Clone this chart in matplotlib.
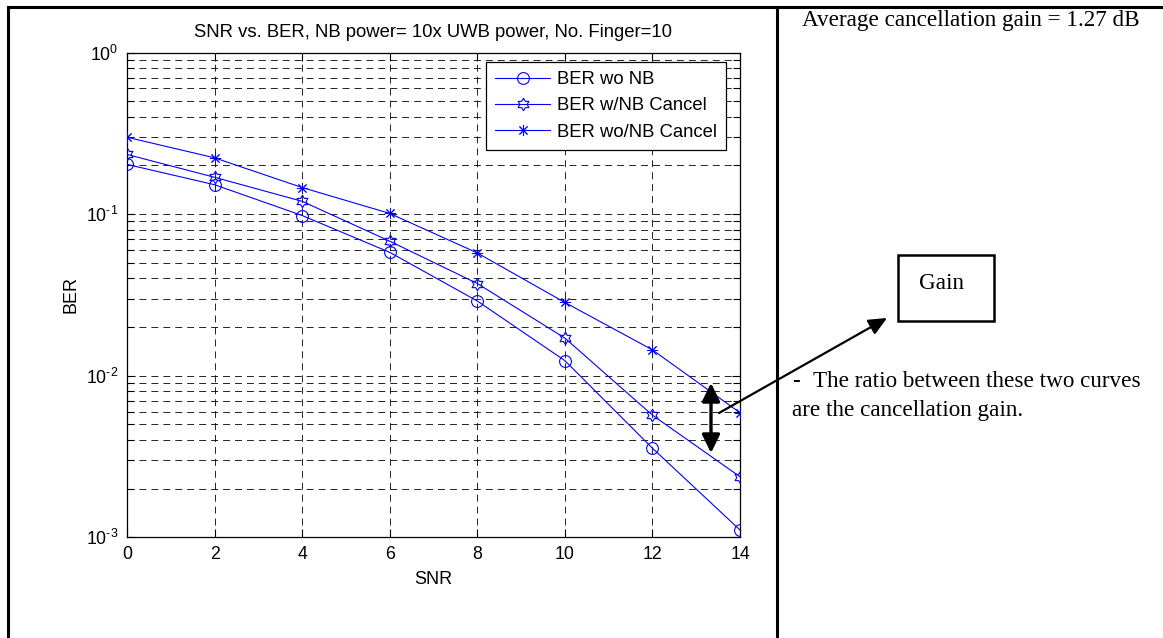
import numpy as np
import matplotlib
matplotlib.use("Agg")
import matplotlib.pyplot as plt
from matplotlib.path import Path
from matplotlib.patches import FancyArrowPatch, Rectangle
from matplotlib.lines import Line2D
from matplotlib.ticker import FuncFormatter, NullFormatter

# ---- data -------------------------------------------------------------
snr = [0, 2, 4, 6, 8, 10, 12, 14]
ber_wo_nb = [0.203, 0.152, 0.098, 0.058, 0.029, 0.0124, 0.00356, 0.00111]
ber_w_cancel = [0.234, 0.169, 0.120, 0.068, 0.0372, 0.0171, 0.0057, 0.00237]
ber_wo_cancel = [0.299, 0.223, 0.146, 0.101, 0.0575, 0.0284, 0.01445, 0.0059]

series_labels = ["BER wo NB", "BER w/NB Cancel", "BER wo/NB Cancel"]
title_text = "SNR vs. BER, NB power= 10x UWB power, No. Finger=10"
x_ticks = [0, 2, 4, 6, 8, 10, 12, 14]
avg_gain_text = "Average cancellation gain = 1.27 dB"
note_line1 = "The ratio between these two curves"
note_line2 = "are the cancellation gain."

# ---- figure -----------------------------------------------------------
W, H = 1163, 638
matplotlib.rcParams["lines.scale_dashes"] = False
matplotlib.rcParams["font.family"] = ["Liberation Sans", "DejaVu Sans"]
matplotlib.rcParams["mathtext.fontset"] = "custom"
matplotlib.rcParams["mathtext.rm"] = "Liberation Sans"
matplotlib.rcParams["mathtext.it"] = "Liberation Sans"

fig = plt.figure(figsize=(W / 100, H / 100), dpi=100)
fig.patch.set_facecolor("white")


def fx(px):
    return px / W


def fy(py):
    return 1 - py / H


ax_l, ax_r, ax_t, ax_b = 127, 740, 52.5, 537.3
ax = fig.add_axes([fx(ax_l), fy(ax_b), fx(ax_r) - fx(ax_l), fy(ax_t) - fy(ax_b)])

hexagram = Path.unit_regular_star(6, 0.577)
blue = (0, 0, 1)
lw = 0.8
ax.semilogy(snr, ber_wo_nb, color=blue, lw=lw, marker="o", ms=8.5,
            mfc="none", mec=blue, mew=0.8, label=series_labels[0], zorder=3)
ax.semilogy(snr, ber_w_cancel, color=blue, lw=lw, marker=hexagram, ms=9,
            mfc="none", mec=blue, mew=0.8, label=series_labels[1], zorder=3)
ax.semilogy(snr, ber_wo_cancel, color=blue, lw=lw, marker=(8, 2, 0), ms=8,
            mec=blue, mew=0.7, label=series_labels[2], zorder=3)

ax.set_xlim(0, 14)
ax.set_ylim(1e-3, 1)
ax.set_xticks(x_ticks)
ax.set_xticklabels([str(v) for v in x_ticks])
ax.yaxis.set_major_formatter(
    FuncFormatter(lambda v, pos: r"$\mathregular{10^{%s}}$" % ("%d" % round(np.log10(v))).replace("-", "\u2010"))
)
ax.yaxis.set_minor_formatter(NullFormatter())

grid_style = dict(color="black", linestyle=(0, (5, 3.6)), linewidth=0.6)
ax.grid(True, which="major", axis="both", **grid_style)
ax.grid(True, which="minor", axis="y", **grid_style)
ax.set_axisbelow(True)

ax.tick_params(which="both", direction="in", top=True, right=True,
               width=0.8, labelsize=12.8, pad=6)
ax.tick_params(which="major", length=6)
ax.tick_params(which="minor", length=5)
for s in ax.spines.values():
    s.set_linewidth(0.9)

ax.set_title(title_text, fontsize=13.3, pad=11.5)
ax.set_xlabel("SNR", fontsize=13, labelpad=6)
ax.set_ylabel("BER", fontsize=13, labelpad=5)

leg = ax.legend(loc="upper right",
                bbox_to_anchor=((726 - ax_l) / (ax_r - ax_l), 1 - (62 - ax_t) / (ax_b - ax_t)),
                borderaxespad=0, fontsize=13.3, frameon=True, fancybox=False,
                edgecolor="black", framealpha=1, handlelength=3.0,
                handletextpad=0.35, labelspacing=0.5, borderpad=0.5)
leg.get_frame().set_linewidth(0.9)

# ---- table frame around the two cells ---------------------------------
frame_kw = dict(color="black", lw=2.2, transform=fig.transFigure)
fig.add_artist(Line2D([fx(8), fx(W)], [fy(7), fy(7)], **frame_kw))
fig.add_artist(Line2D([fx(8), fx(8)], [fy(7), fy(H)], **frame_kw))
fig.add_artist(Line2D([fx(777), fx(777)], [fy(7), fy(H)], **frame_kw))

# ---- right cell text --------------------------------------------------
serif = ["Liberation Serif", "DejaVu Serif"]
tsize = 16.7
fig.text(fx(802), fy(26), avg_gain_text, family=serif, fontsize=tsize,
         va="baseline", ha="left")
fig.text(fx(792), fy(387), "-", family=serif, fontsize=tsize, fontweight="bold",
         va="baseline", ha="left")
fig.text(fx(813), fy(387), note_line1, family=serif, fontsize=tsize,
         va="baseline", ha="left")
fig.text(fx(792), fy(416), note_line2, family=serif, fontsize=tsize,
         va="baseline", ha="left")

# Gain box
fig.add_artist(Rectangle((fx(898), fy(321)), fx(994) - fx(898), fy(255) - fy(321),
                         transform=fig.transFigure, fill=False, lw=1.8,
                         edgecolor="black"))
fig.text(fx(942), fy(289), "Gain", family=serif, fontsize=tsize,
         va="baseline", ha="center")

# double-headed arrow between the two curves
fig.add_artist(FancyArrowPatch((fx(711), fy(383)), (fx(711), fy(453)),
                               transform=fig.transFigure,
                               arrowstyle="<|-|>,head_length=0.55,head_width=0.27",
                               mutation_scale=20, lw=2.4, color="black",
                               shrinkA=0, shrinkB=0))
# pointer to the Gain box
fig.add_artist(FancyArrowPatch((fx(719), fy(413)), (fx(887), fy(318)),
                               transform=fig.transFigure,
                               arrowstyle="-|>,head_length=0.55,head_width=0.25",
                               mutation_scale=20, lw=1.6, color="black",
                               shrinkA=0, shrinkB=0))

fig.savefig("out.png", dpi=100, facecolor="white")
